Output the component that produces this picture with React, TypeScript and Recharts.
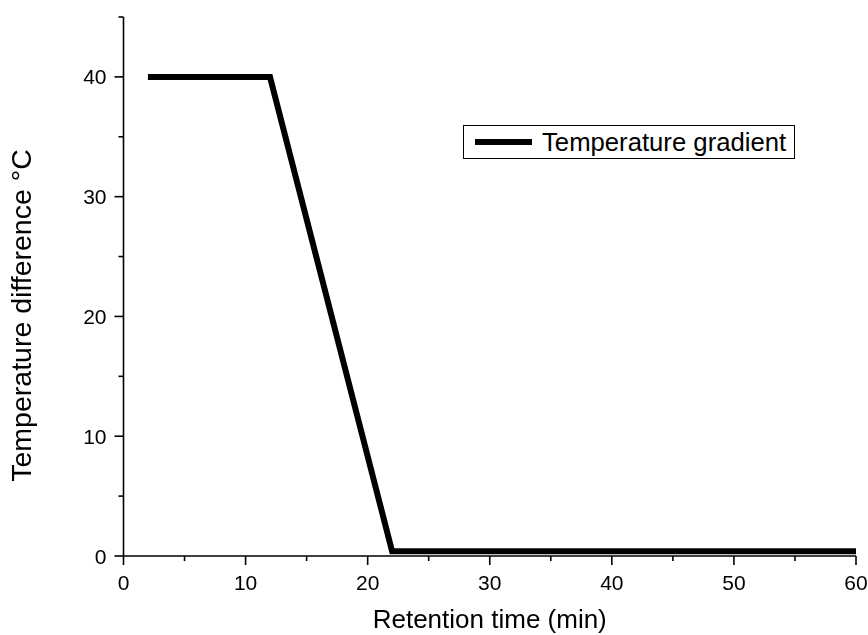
import React from 'react';
import { LineChart, Line, XAxis, YAxis, Legend } from 'recharts';

const retentionTime = [2, 12, 22, 60];
const temperatureDiff = [40, 40, 0.4, 0.4];
const xTicks = [0, 5, 10, 15, 20, 25, 30, 35, 40, 45, 50, 55, 60];
const yTicks = [0, 5, 10, 15, 20, 25, 30, 35, 40, 45];
const xMajor = [0, 10, 20, 30, 40, 50, 60];
const yMajor = [0, 10, 20, 30, 40];
const seriesName = 'Temperature gradient';
const xTitle = 'Retention time (min)';
const yTitle = 'Temperature difference °C';

const data = retentionTime.map((t, i) => ({ t, v: temperatureDiff[i] }));

const FONT = '"Liberation Sans", Arial, sans-serif';

const XTick = (props: any) => {
  const { x, y, payload } = props;
  const major = xMajor.includes(payload.value);
  return (
    <g>
      <line x1={x} y1={y} x2={x} y2={y + (major ? 9 : 5)} stroke="#000" strokeWidth={1.6} />
      {major && (
        <text x={x} y={y + 34} textAnchor="middle" fontFamily={FONT} fontSize={21} fill="#000">
          {payload.value}
        </text>
      )}
    </g>
  );
};

const YTick = (props: any) => {
  const { x, y, payload } = props;
  const major = yMajor.includes(payload.value);
  return (
    <g>
      <line x1={x - (major ? 9 : 5)} y1={y} x2={x} y2={y} stroke="#000" strokeWidth={1.6} />
      {major && (
        <text x={x - 17} y={y + 7.5} textAnchor="end" fontFamily={FONT} fontSize={21} fill="#000">
          {payload.value}
        </text>
      )}
    </g>
  );
};

const XLabel = (props: any) => {
  const vb = props.viewBox || {};
  return (
    <text x={vb.x + vb.width / 2} y={vb.y + 72} textAnchor="middle" fontFamily={FONT} fontSize={26} fill="#000">
      {xTitle}
    </text>
  );
};

const YLabel = (props: any) => {
  const vb = props.viewBox || {};
  const cx = 30.5;
  const cy = vb.y + vb.height / 2 + 29;
  return (
    <text x={cx} y={cy} transform={`rotate(-90 ${cx} ${cy})`} textAnchor="middle" fontFamily={FONT} fontSize={28.5} fill="#000">
      {yTitle}
    </text>
  );
};

const LegendBox = () => (
  <div
    style={{
      border: '1px solid #000',
      width: 330,
      height: 32,
      display: 'flex',
      alignItems: 'center',
      boxSizing: 'content-box',
      background: '#fff',
    }}
  >
    <div style={{ width: 57, height: 6, background: '#000', marginLeft: 11, flexShrink: 0 }} />
    <span style={{ marginLeft: 10, fontFamily: FONT, fontSize: 25.7, lineHeight: '32px', color: '#000', whiteSpace: 'nowrap' }}>
      {seriesName}
    </span>
  </div>
);

export default function App() {
  return (
    <div style={{ position: 'fixed', left: 0, top: 8 }}>
      <LineChart width={868} height={627} data={data} margin={{ top: 9, right: 12, left: 8, bottom: 0 }}>
        <XAxis
          dataKey="t"
          type="number"
          domain={[0, 60]}
          ticks={xTicks}
          interval={0}
          height={79}
          tickSize={0}
          tickMargin={0}
          tickLine={false}
          axisLine={{ stroke: '#000', strokeWidth: 1.6 }}
          tick={<XTick />}
          label={<XLabel />}
        />
        <YAxis
          type="number"
          domain={[0, 45]}
          ticks={yTicks}
          interval={0}
          width={115.5}
          tickSize={0}
          tickMargin={0}
          tickLine={false}
          axisLine={{ stroke: '#000', strokeWidth: 1.6 }}
          tick={<YTick />}
          label={<YLabel />}
        />
        <Legend
          layout="horizontal"
          verticalAlign="middle"
          align="center"
          content={<LegendBox />}
          wrapperStyle={{ position: 'absolute', left: 463, top: 117, width: 'auto' }}
        />
        <Line
          dataKey="v"
          name={seriesName}
          stroke="#000"
          strokeWidth={6}
          dot={false}
          activeDot={false}
          isAnimationActive={false}
          strokeLinejoin="miter"
        />
      </LineChart>
    </div>
  );
}
